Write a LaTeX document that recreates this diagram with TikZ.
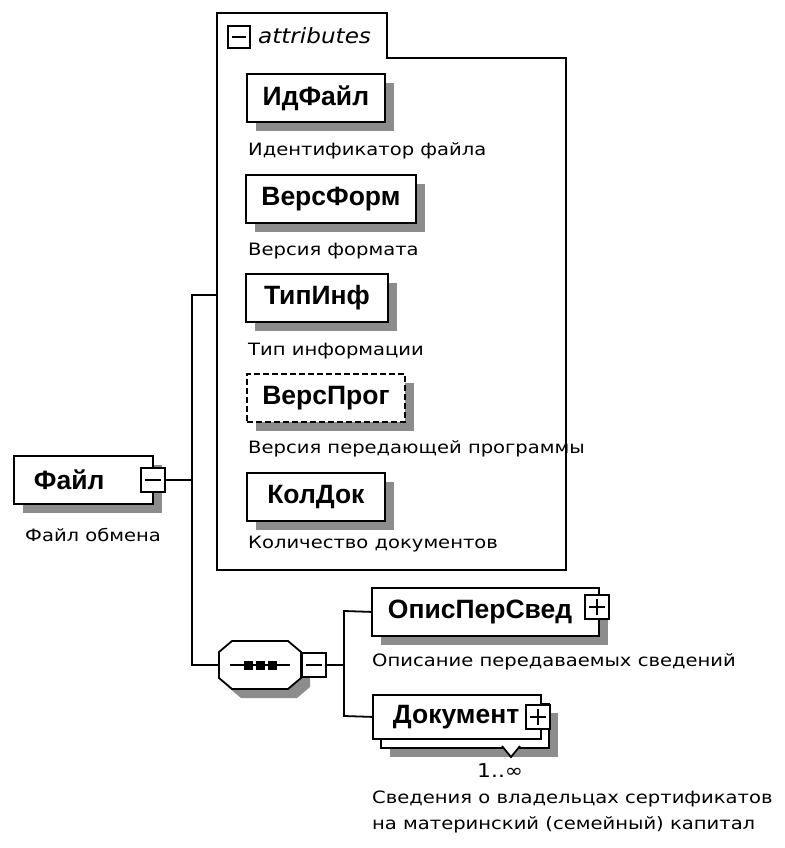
\documentclass[tikz,border=0pt]{standalone}
\usepackage{fontspec}
\setmainfont{Liberation Sans}
\newfontfamily\descfont[FakeStretch=1.15]{DejaVu Sans}
\newfontfamily\titlefont[FakeStretch=1.1]{DejaVu Sans}
\usetikzlibrary{shadows, positioning}

\newcommand{\elemfont}{\fontsize{26.5}{30}\selectfont\bfseries}
\newcommand{\notefont}{\descfont\fontsize{17}{26}\selectfont}

\begin{document}
\begin{tikzpicture}[x=1pt, y=-1pt]
		\tikzset{
			box/.style={rectangle, draw, line width=1.8pt, fill=white, anchor=north west,
			minimum height=48pt, inner xsep=0pt, font=\elemfont},
			elem/.style={box, drop shadow={shadow xshift=9pt, shadow yshift=-9pt,
			fill=black!45, opacity=1}},
			opt/.style={elem, dash pattern=on 6pt off 3pt},
			note/.style={anchor=west, inner sep=0pt, font=\notefont},
			btn/.style={rectangle, draw, line width=1.6pt, fill=white, minimum size=24pt,
			inner sep=0pt},
			minus/.style={btn, path picture={\draw[line width=1.5pt]
			([xshift=4pt]path picture bounding box.west) --
			([xshift=-4pt]path picture bounding box.east);}},
			plus/.style={btn, path picture={\draw[line width=1.5pt]
			([xshift=4pt]path picture bounding box.west) --
			([xshift=-4pt]path picture bounding box.east)
			([yshift=4pt]path picture bounding box.south) --
			([yshift=-4pt]path picture bounding box.north);}},
			conn/.style={line width=1.8pt},
		}
		\useasboundingbox (0,0) rectangle (784,848);

		% attributes group
		\draw[line width=1.8pt, fill=white] (217,13) -- (387,13) -- (387,58) -- (566,58)
			-- (566,570) -- (217,570) -- cycle;
		\node[minus, minimum size=22pt] (attrbtn) at (239,37){};
		\node[anchor=west, inner sep=0pt, font=\titlefont\itshape\fontsize{21}{24}\selectfont]
			(attrtitle) at (258,36){attributes};

		\node[elem, minimum width=138pt](idfile) at (246,73){ИдФайл};
		\node[note](idfiledesc) at (248,151){Идентификатор файла};
		\node[elem, minimum width=170pt](versform) at (245,174){ВерсФорм};
		\node[note](versformdesc) at (248,251){Версия формата};
		\node[elem, minimum width=142pt](typeinf) at (245,273){ТипИнф};
		\node[note](typeinfdesc) at (248,351){Тип информации};
		\node[opt, minimum width=158pt](versprog) at (246,373){ВерсПрог};
		\node[note](versprogdesc) at (248,449){Версия передающей программы};
		\node[elem, minimum width=138pt](koldok) at (246,472){КолДок};
		\node[note](koldokdesc) at (248,544){Количество документов};

		% root
		\node[elem, text width=99pt, inner xsep=20pt, align=left](file) at (13,455){Файл};
		\node[minus](filebtn) at (153,480){};
		\node[note](filedesc) at (25,535){Файл обмена};

		% sequence
		\fill[black!45, shift={(9,9)}] (219,652) -- (232,641) -- (288,641) -- (301,652)
			-- (301,678) -- (288,689) -- (232,689) -- (219,678) -- cycle;
		\draw[line width=1.8pt, fill=white] (219,652) -- (232,641) -- (288,641) -- (301,652)
			-- (301,678) -- (288,689) -- (232,689) -- (219,678) -- cycle;
		\node[inner sep=0pt, minimum width=82pt, minimum height=48pt](seq) at (260,665){};
		\draw[conn] ([xshift=-30pt]seq.center) -- ([xshift=30pt]seq.center);
		\foreach \dx in {-12,0,12}
			\fill ([xshift=\dx pt]seq.center) +(-4.5,-4.5) rectangle +(4.5,4.5);
		\node[minus](seqbtn) at (314,665){};

		\node[elem, text width=195pt, inner xsep=16pt, align=left](opis) at (371,587){ОписПерСвед};
		\node[plus](opisbtn) at (597,607){};
		\node[note](opisdesc) at (372,662){Описание передаваемых сведений};

		\node[elem, minimum width=168pt, minimum height=44pt](docback) at (380,703){};
		\draw[line width=1.8pt, fill=white] (502,746) -- (511,757) -- (520,746);
		\node[box, text width=128pt, inner xsep=20pt, align=left, minimum height=44pt](doc)
			at (372,694){Документ};
		\node[plus](docbtn) at (538,717){};
		\node[note, font=\descfont\fontsize{19}{22}\selectfont](docmult) at (477,771){1..∞};
		\node[note, anchor=north west, align=left](docdesc) at (372,791)
			{Сведения о владельцах сертификатов\\на материнский (семейный) капитал};

		% connectors
		\coordinate (trunktop) at (192,295);
		\coordinate (trunkbot) at (192,665);
		\coordinate (attrin) at (217,295);
		\coordinate (branchtop) at (344,611);
		\coordinate (branchbot) at (344,716);

		\draw[conn](filebtn.east) -- (filebtn.east -| trunktop);
		\draw[conn](attrin) -- (trunktop) -- (trunkbot) -- (seq.west);
		\draw[conn](seqbtn.east) -- (seqbtn.east -| branchtop);
		\draw[conn](opis.west) -- (branchtop) -- (branchbot) -- (doc.west);

	\end{tikzpicture}
\end{document}
